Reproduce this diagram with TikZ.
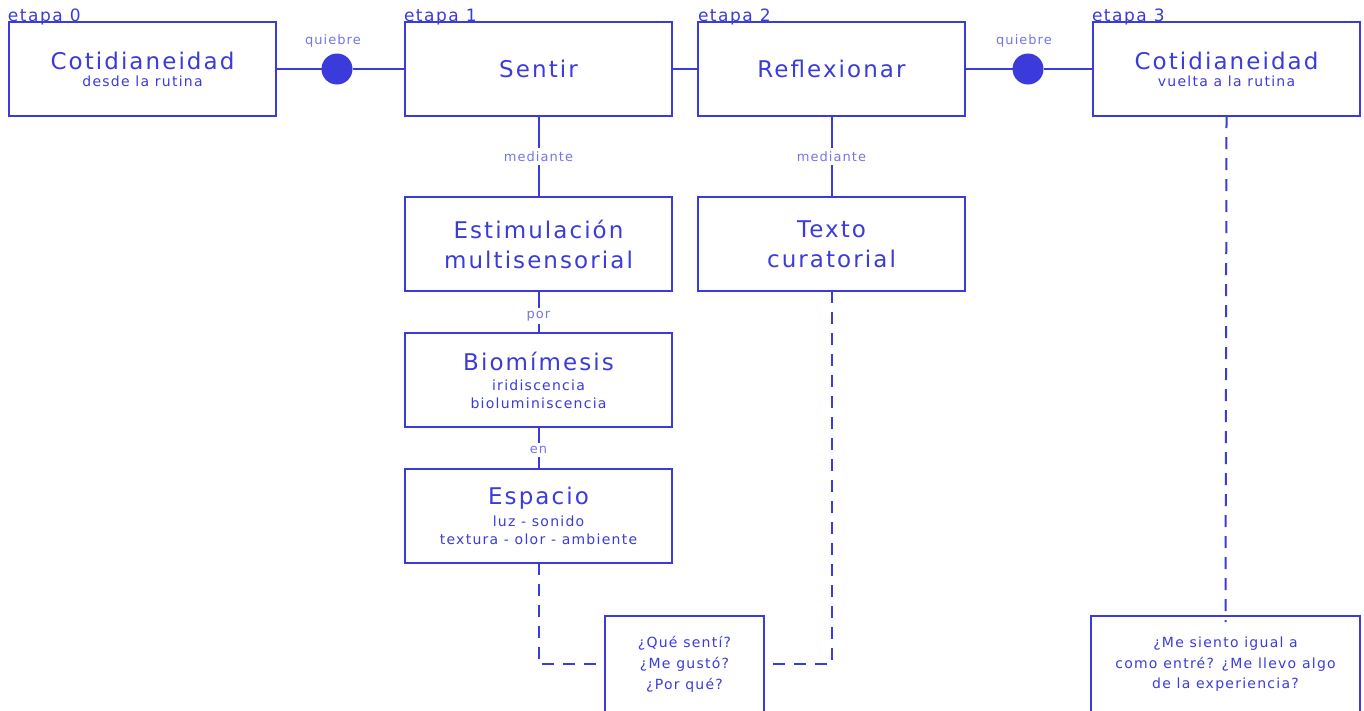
\documentclass[tikz,border=0pt]{standalone}
\usepackage{fontspec}
\setmainfont{DejaVu Sans}[LetterSpace=9]
\newfontfamily\lblfont{DejaVu Sans}[LetterSpace=8]
\definecolor{ink}{HTML}{3B3BDB}
\definecolor{soft}{HTML}{7676E2}
\newcommand\headline[1]{{\fontsize{23}{24}\selectfont #1}}
\begin{document}
\begin{tikzpicture}[x=1pt,y=-1pt,
  every node/.style={inner sep=0pt, outer sep=0pt},
  box/.style={draw=ink, line width=2pt, minimum width=267pt, minimum height=94pt, align=center, text=ink},
  qbox/.style={draw=ink, line width=2pt, minimum height=96pt, align=center, text=ink},
  big/.style={font=\fontsize{23}{30}\selectfont},
  sub/.style={font=\fontsize{14}{18}\selectfont},
  dot/.style={circle, fill=ink, minimum size=31pt},
  lbl/.style={fill=white, text=soft, font=\lblfont\fontsize{13}{15}\selectfont, inner sep=3pt},
  stage/.style={anchor=base west, text=ink, font=\fontsize{17}{18}\selectfont},
  conn/.style={draw=ink, line width=2pt},
  dconn/.style={draw=ink, line width=2pt, dash pattern=on 12pt off 9pt}]
\useasboundingbox (0,0) rectangle (1364,710);

% top row of stages
\node[box, sub] (cot0) at (142.5,69) {\headline{Cotidianeidad}\\[-1pt]desde la rutina};
\node[box, big] (sentir) at (538.5,69) {Sentir};
\node[box, big] (reflex) at (831.5,69) {Reflexionar};
\node[box, sub] (cot3) at (1226.5,69) {\headline{Cotidianeidad}\\[-1pt]vuelta a la rutina};

\node[stage] (e0) at (8,21) {etapa 0};
\node[stage] (e1) at (404,21) {etapa 1};
\node[stage] (e2) at (698,21) {etapa 2};
\node[stage] (e3) at (1092,21) {etapa 3};

% break points
\node[dot] (d1) at (337,69) {};
\node[dot] (d2) at (1028,69) {};
\node[lbl] (q1) at (333,41) {quiebre};
\node[lbl] (q2) at (1024,41) {quiebre};

\path[conn] (cot0) -- (d1) -- (sentir);
\path[conn] (sentir) -- (reflex);
\path[conn] (reflex) -- (d2) -- (cot3);

% column under "Sentir"
\node[box, big] (estim) at (538.5,244) {Estimulación\\multisensorial};
\node[box, sub] (bio) at (538.5,380) {\headline{Biomímesis}\\[2pt]iridiscencia\\bioluminiscencia};
\node[box, sub] (esp) at (538.5,515.5) {\headline{Espacio}\\[4pt]luz - sonido\\textura - olor - ambiente};

\path[conn] (sentir) -- node[lbl] {mediante} (estim);
\path[conn] (estim) -- node[lbl, pos=0.6] {por} (bio);
\path[conn] (bio) -- node[lbl, pos=0.55] {en} (esp);

% column under "Reflexionar"
\node[box, big] (texto) at (831.5,244) {Texto\\curatorial};
\path[conn] (reflex) -- node[lbl] {mediante} (texto);

% closing questions
\node[qbox, minimum width=159pt, font=\fontsize{14}{21}\selectfont] (qa) at (684.5,664) {¿Qué sentí?\\¿Me gustó?\\¿Por qué?};
\node[qbox, minimum width=269pt, font=\fontsize{14}{20.5}\selectfont] (qb) at (1225.5,664) {\raisebox{2pt}{\shortstack{¿Me siento igual a\\[4pt]como entré? ¿Me llevo algo\\[4pt]de la experiencia?}}};

\draw[dconn] (esp.south) |- ([xshift=-5pt]qa.west);
\draw[dconn] (texto.south) |- ([xshift=5pt]qa.east);
\draw[dconn] (cot3.south) -- ([yshift=-6pt]qb.north);
\end{tikzpicture}
\end{document}
